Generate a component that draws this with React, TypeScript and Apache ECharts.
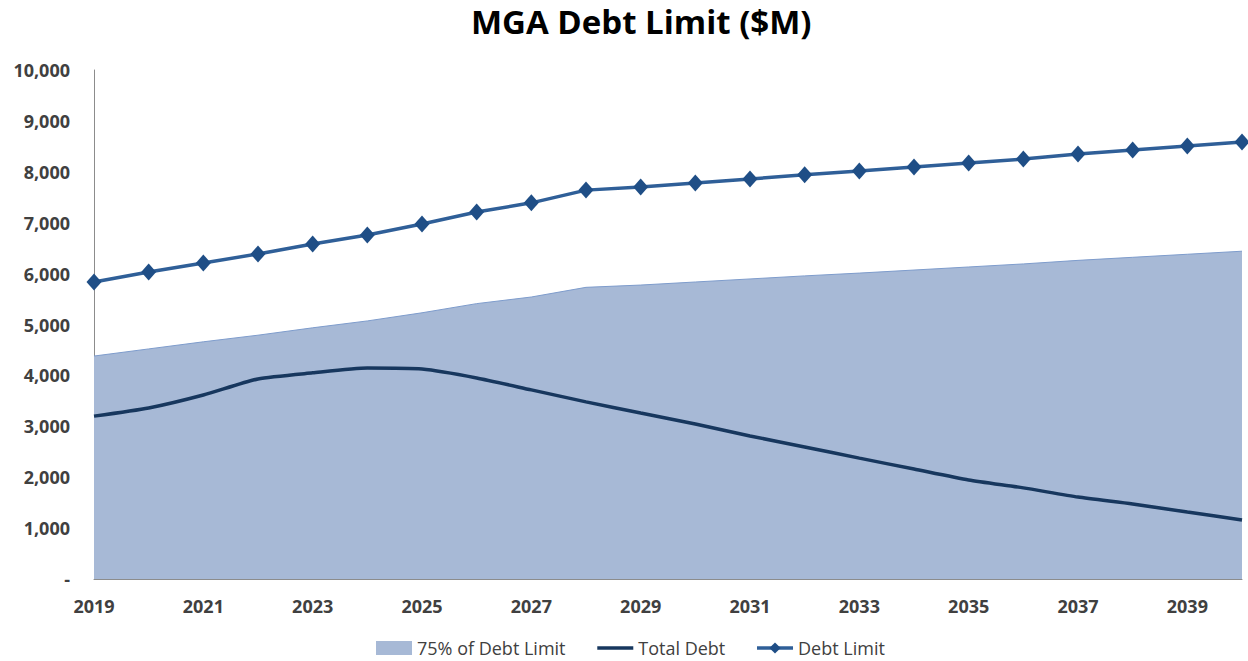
import React, { useEffect, useRef } from "react";
import * as echarts from "echarts";

const years = ["2019","2020","2021","2022","2023","2024","2025","2026","2027","2028","2029","2030","2031","2032","2033","2034","2035","2036","2037","2038","2039","2040"];
const debtLimit = [5835, 6030, 6210, 6385, 6580, 6760, 6975, 7210, 7390, 7640, 7700, 7780, 7860, 7940, 8015, 8095, 8175, 8250, 8350, 8430, 8505, 8585];
const pct75 = [4380, 4520, 4660, 4790, 4935, 5070, 5230, 5410, 5540, 5730, 5775, 5835, 5895, 5955, 6010, 6070, 6130, 6190, 6260, 6320, 6380, 6440];
const totalDebt = [3200, 3360, 3615, 3930, 4050, 4145, 4125, 3950, 3715, 3480, 3260, 3045, 2810, 2595, 2375, 2160, 1945, 1790, 1610, 1475, 1315, 1160];

const FONT = "'Open Sans', 'Liberation Sans', sans-serif";

export default function App() {
  const ref = useRef<HTMLDivElement>(null);
  useEffect(() => {
    document.body.style.margin = "0";
    const chart = echarts.init(ref.current!, null, { renderer: "svg" });
    chart.setOption({
      animation: false,
      title: {
        text: "MGA Debt Limit ($M)",
        left: 466,
        top: 0,
        textStyle: { fontFamily: FONT, fontWeight: "bold", fontSize: 33, color: "#000" },
      },
      legend: {
        top: 638,
        left: 376,
        padding: 0,
        itemWidth: 36,
        itemHeight: 14,
        itemGap: 30,
        lineStyle: { width: 3.5 },
        textStyle: { fontFamily: FONT, fontSize: 18, lineHeight: 20, color: "#404040" },
        data: [
          { name: "75% of Debt Limit", icon: "rect" },
          { name: "Total Debt", itemStyle: { opacity: 0 } },
          { name: "Debt Limit" },
        ],
      },
      grid: { left: 94, right: 6, top: 70, bottom: 82, containLabel: false },
      xAxis: {
        type: "category",
        data: years,
        boundaryGap: false,
        axisLine: { lineStyle: { color: "#8c8c8c", width: 1 } },
        axisTick: { show: false },
        axisLabel: {
          interval: 1,
          margin: 18,
          fontFamily: FONT,
          fontWeight: "bold",
          fontSize: 18,
          color: "#404040",
        },
      },
      yAxis: {
        type: "value",
        min: 0,
        max: 10000,
        interval: 1000,
        splitLine: { show: false },
        axisLine: { show: true, lineStyle: { color: "#8c8c8c", width: 1 } },
        axisTick: { show: false },
        axisLabel: {
          margin: 24,
          fontFamily: FONT,
          fontWeight: "bold",
          fontSize: 18,
          color: "#404040",
          formatter: (v: number) => (v === 0 ? "-" : v.toLocaleString("en-US")),
        },
      },
      series: [
        {
          name: "75% of Debt Limit",
          type: "line",
          data: pct75,
          showSymbol: false,
          symbol: "none",
          lineStyle: { color: "#7e9ccc", width: 1 },
          itemStyle: { color: "#a7b9d6" },
          areaStyle: { color: "#a7b9d6", opacity: 1 },
          z: 1,
        },
        {
          name: "Total Debt",
          type: "line",
          data: totalDebt,
          symbol: "none",
          smooth: 0.2,
          lineStyle: { color: "#17375e", width: 3.5 },
          itemStyle: { color: "#17375e" },
          z: 2,
        },
        {
          name: "Debt Limit",
          type: "line",
          data: debtLimit,
          symbol: "diamond",
          symbolSize: [15, 17],
          lineStyle: { color: "#2f5f98", width: 3.5 },
          itemStyle: { color: "#1f4e86" },
          z: 3,
        },
      ],
    });
    return () => chart.dispose();
  }, []);
  return <div ref={ref} style={{ width: 1248, height: 661 }} />;
}
